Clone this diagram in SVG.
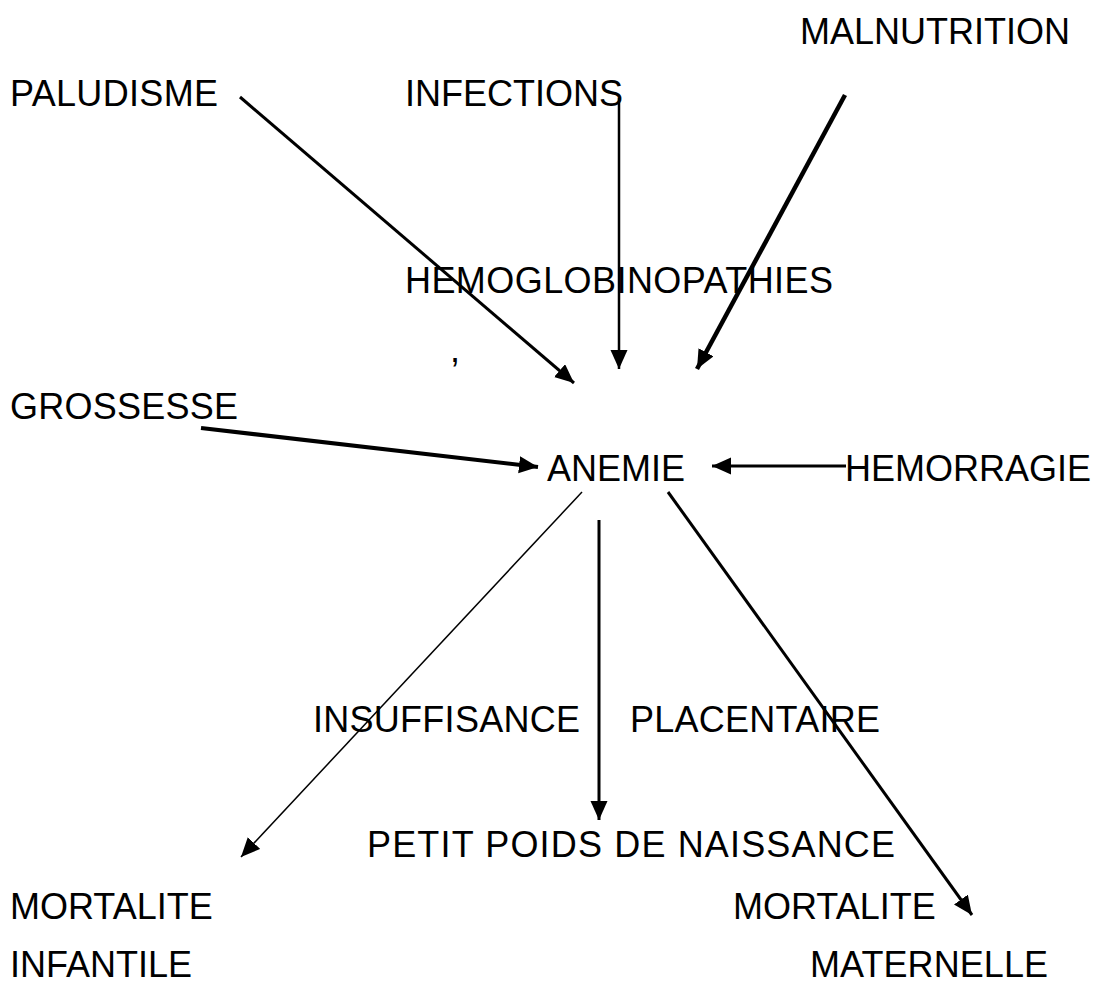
<svg xmlns="http://www.w3.org/2000/svg" width="1096" height="985" viewBox="0 0 1096 985">
<style>
text{font-family:"Liberation Sans",Arial,sans-serif;font-size:36px;fill:#000}
.c{stroke:#000;fill:none;marker-end:url(#ah)}
</style>
<defs>
<marker id="ah" markerUnits="userSpaceOnUse" markerWidth="22" markerHeight="18" refX="19" refY="8.5" orient="auto">
<path d="M0,0 L19,8.5 L0,17 z" fill="#000"/>
</marker>
</defs>
<rect width="1096" height="985" fill="#fff"/>
<g id="connectors">
<line class="c" x1="240" y1="97" x2="574" y2="383" stroke-width="3"/>
<line class="c" x1="619" y1="98" x2="619" y2="369" stroke-width="2.5"/>
<line class="c" x1="845" y1="95" x2="697" y2="369" stroke-width="4.5"/>
<line class="c" x1="201" y1="428" x2="538" y2="467" stroke-width="4"/>
<line class="c" x1="846" y1="466" x2="712" y2="466" stroke-width="3"/>
<line class="c" x1="582" y1="492" x2="241" y2="857" stroke-width="1.5"/>
<line class="c" x1="599" y1="520" x2="599" y2="820" stroke-width="3"/>
<line class="c" x1="668" y1="492" x2="972" y2="915" stroke-width="3"/>
</g>
<g id="paludisme"><text x="10" y="106" textLength="208">PALUDISME</text></g>
<g id="infections"><text x="405" y="106">INFECTIONS</text></g>
<g id="malnutrition"><text x="800" y="44">MALNUTRITION</text></g>
<g id="hemoglobinopathies"><text x="405" y="293" textLength="428">HEMOGLOBINOPATHIES</text></g>
<g id="comma"><text x="450" y="362">,</text></g>
<g id="grossesse"><text x="10" y="419" textLength="228">GROSSESSE</text></g>
<g id="anemie"><text x="547" y="481">ANEMIE</text></g>
<g id="hemorragie"><text x="845" y="481">HEMORRAGIE</text></g>
<g id="insuffisance"><text x="313" y="732" textLength="267">INSUFFISANCE</text></g>
<g id="placentaire"><text x="630" y="732" textLength="250">PLACENTAIRE</text></g>
<g id="petit-poids"><text x="367" y="857" textLength="528">PETIT POIDS DE NAISSANCE</text></g>
<g id="mortalite-infantile"><text x="10" y="919">MORTALITE</text><text x="10" y="977">INFANTILE</text></g>
<g id="mortalite-maternelle"><text x="733" y="919">MORTALITE</text><text x="810" y="977" textLength="238">MATERNELLE</text></g>
</svg>
